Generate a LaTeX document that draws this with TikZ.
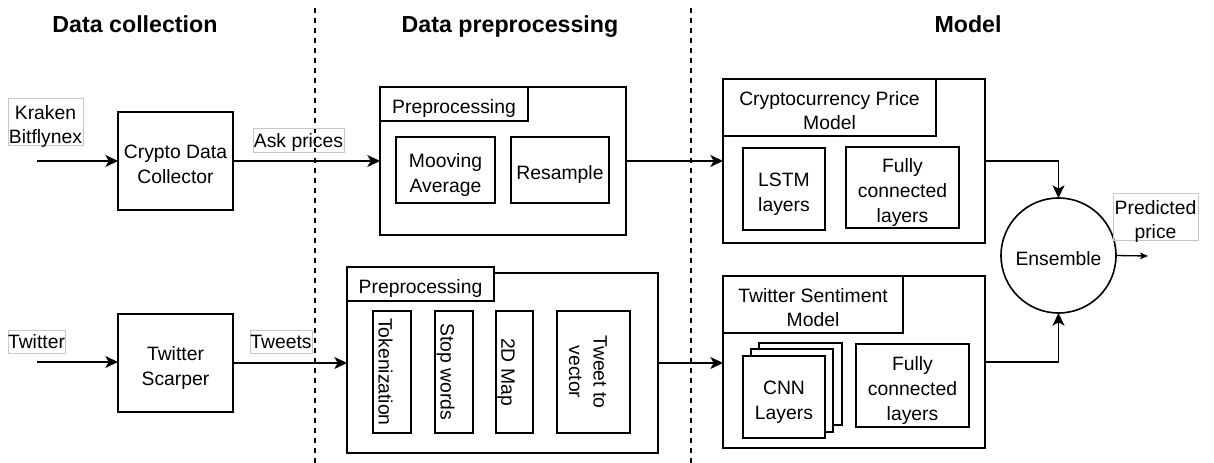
\documentclass[tikz,border=0pt]{standalone}
\usepackage{fontspec}
\setmainfont{Liberation Sans}
\usetikzlibrary{arrows.meta,calc}
% invisible strut that makes the first line taller, so a label sits a little lower
\newcommand\toppad{\rule{0pt}{15pt}}
\begin{document}
\begin{tikzpicture}[x=0.75pt,y=-0.75pt,
  font=\fontsize{14.5}{18.4}\selectfont,
  every node/.style={text depth=0pt},
  wh/.style 2 args={minimum width=#1*0.75pt, minimum height=#2*0.75pt},
  box/.style={draw, line width=1.2pt, inner sep=0pt, outer sep=0pt, align=center, fill=white},
  tag/.style={draw=black!22, line width=0.5pt, inner sep=0pt, outer sep=0pt, align=center},
  vtext/.style={rotate=-90, align=center, inner sep=0pt},
  title/.style={font=\fontsize{17.4}{20}\selectfont\bfseries},
  conn/.style={line width=1.2pt},
  arr/.style={conn, -{Stealth[length=9.5pt, width=9pt, inset=2.5pt]}},
  sep/.style={line width=1pt, dash pattern=on 4pt off 3.5pt}
]
\useasboundingbox (0,0) rectangle (1214,463);

% section separators
\coordinate (s1top) at (315,8);  \coordinate (s1bot) at (315,463);
\coordinate (s2top) at (691,8);  \coordinate (s2bot) at (691,463);
\draw[sep] (s1top) -- (s1bot);
\draw[sep] (s2top) -- (s2bot);

% section titles
\node[title] (tcol) at (135,24) {Data collection};
\node[title] (tpre) at (510,24) {Data preprocessing};
\node[title] (tmod) at (968,24) {Model};

% --- collection ---
\node[box, wh={115}{98}] (collector) at (175.5,161) {\toppad Crypto Data\\Collector};
\node[box, wh={115}{98}] (scarper) at (175.5,363) {\toppad Twitter\\Scarper};

\node[tag, wh={75}{47}] (kraken) at (45.5,121.5) {\toppad Kraken\\Bitflynex};
\node[tag, wh={57}{23}] (twsrc) at (36.5,341.5) {Twitter};
\node[tag, wh={91}{24}] (askp) at (298.5,140) {Ask prices};
\node[tag, wh={62}{23}] (tweets) at (281,341.5) {Tweets};

% --- preprocessing of prices ---
\node[box, wh={246}{148}] (uppre) at (503,161) {};
\node[box, wh={148}{34}, anchor=north west] (uptab) at (380,87) {\toppad Preprocessing};
\node[box, wh={99}{66}] (mavg) at (445.5,170) {\toppad Mooving\\Average};
\node[box, wh={98}{66}] (resample) at (560,170) {\toppad Resample};

% --- preprocessing of tweets ---
\node[box, wh={311}{180}] (lowpre) at (502.5,363) {};
\node[box, wh={147}{34}, anchor=north west] (lowtab) at (347,267) {\toppad Preprocessing};
\node[box, wh={38}{122}] (tok) at (392,372) {};
\node[vtext] (tokT) at ($(tok.center)+(-6.5,0)$) {Tokenization};
\node[box, wh={38}{122}] (stopw) at (454,372) {};
\node[vtext] (stopwT) at ($(stopw.center)+(-6.5,0)$) {Stop words};
\node[box, wh={37}{122}] (map2d) at (514.5,372) {};
\node[vtext] (map2dT) at ($(map2d.center)+(-6.5,0)$) {2D Map};
\node[box, wh={73}{122}] (t2v) at (593.5,372) {};
\node[vtext] (t2vT) at ($(t2v.center)+(-5.5,0)$) {Tweet to\\vector};

% --- price model ---
\node[box, wh={262}{164}] (cmodel) at (854,161) {};
\node[box, wh={213}{57}, anchor=north west] (ctab) at (723,79) {\toppad Cryptocurrency Price\\Model};
\node[box, wh={82}{82}] (lstm) at (784,189) {\toppad LSTM\\layers};
\node[box, wh={113}{81}] (fc1) at (902.5,187.5) {\toppad Fully\\connected\\layers};

% --- sentiment model ---
\node[box, wh={262}{172}] (tmodel) at (854,362) {};
\node[box, wh={180}{57}, anchor=north west] (ttab) at (723,276) {\toppad Twitter Sentiment\\Model};
\node[box, wh={83}{82}] (cnnC) at (800.5,384) {};
\node[box, wh={82}{83}] (cnnB) at (792,390.5) {};
\node[box, wh={82}{82}] (cnnA) at (784,397) {\toppad CNN\\Layers};
\node[box, wh={113}{83}] (fc2) at (912.5,385.5) {\toppad Fully\\connected\\layers};

% --- ensemble ---
\node[draw, circle, line width=1.2pt, minimum size=115*0.75pt, inner sep=0pt, outer sep=0pt] (ens) at (1058.5,255.5) {\toppad Ensemble};
\node[tag, wh={85}{47}] (pred) at (1155.5,216.5) {\toppad Predicted\\price};

% connectors
\coordinate (kin) at (37,161);
\coordinate (tin) at (37,362);
\coordinate (out) at (1148,256);
\draw[arr] (kin) -- (kin -| collector.west);
\draw[arr] (tin) -- (tin -| scarper.west);
\draw[arr] (collector.east) -- (collector.east -| uppre.west);
\draw[arr] (scarper.east) -- (scarper.east -| lowpre.west);
\draw[arr] (uppre.east) -- (uppre.east -| cmodel.west);
\draw[arr] (lowpre.east) -- (lowpre.east -| tmodel.west);
\draw[arr] (cmodel.east) -| (ens.north);
\draw[arr] (tmodel.east) -| (ens.south);
\draw[line width=1pt, -{Stealth[length=6pt, width=5pt, inset=1.5pt]}] (ens.east) -- (out);
\end{tikzpicture}
\end{document}
